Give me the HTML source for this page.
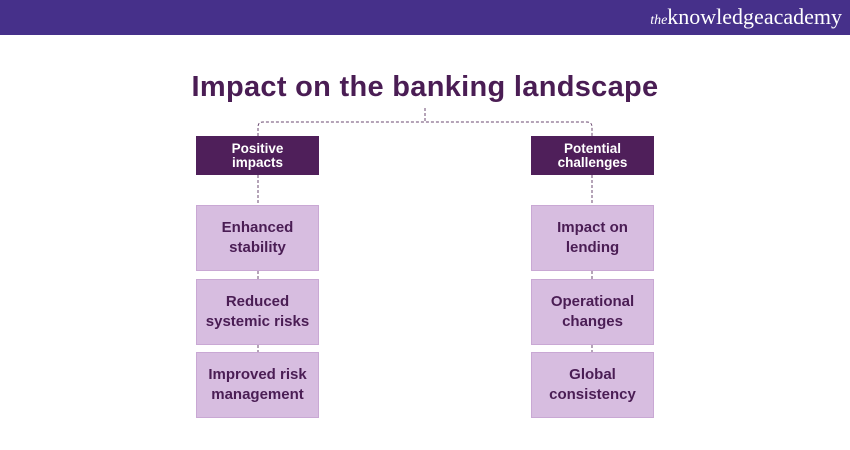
<!DOCTYPE html>
<html><head><style>
body{margin:0;width:850px;height:450px;background:#fff;position:relative;overflow:hidden;font-family:"Liberation Sans",sans-serif}
.hdr{position:absolute;left:0;top:0;width:850px;height:35px;background:#46308a}
.logo{position:absolute;right:8px;top:4px;color:#fff;font-family:"Liberation Serif",serif;font-size:22px}
.logo i{font-size:14px}
h1{position:absolute;left:0;width:850px;top:71px;margin:0;text-align:center;font-size:29px;font-weight:bold;color:#4a1d54;letter-spacing:0.3px}
.b{position:absolute;width:123px;display:flex;align-items:center;justify-content:center;text-align:center;font-weight:bold;box-sizing:border-box}
.d{height:39px;top:136px;background:#4f1f5a;color:#fff;font-size:13.5px;line-height:14px}
.l{height:66px;background:#d7bde0;color:#4a1d54;font-size:15px;line-height:20px;border:1px solid #c9a8d4}
</style></head><body>
<div class="hdr"><div class="logo"><i>the</i>knowledgeacademy</div></div>
<h1>Impact on the banking landscape</h1>
<svg width="850" height="450" style="position:absolute;left:0;top:0">
<g fill="none" stroke="#6b4a70" stroke-width="1" stroke-dasharray="3,2">
<path d="M425 108V122"/>
<path d="M258 136V127Q258 122 263 122H587Q592 122 592 127V136"/>
<path d="M258 175V205M592 175V205M258 271V279M592 271V279M258 345V352M592 345V352"/>
</g></svg>
<div class="b d" style="left:196px">Positive<br>impacts</div>
<div class="b d" style="left:531px">Potential<br>challenges</div>
<div class="b l" style="left:196px;top:205px">Enhanced<br>stability</div>
<div class="b l" style="left:196px;top:279px">Reduced<br>systemic risks</div>
<div class="b l" style="left:196px;top:352px">Improved risk<br>management</div>
<div class="b l" style="left:531px;top:205px">Impact on<br>lending</div>
<div class="b l" style="left:531px;top:279px">Operational<br>changes</div>
<div class="b l" style="left:531px;top:352px">Global<br>consistency</div>
</body></html>
